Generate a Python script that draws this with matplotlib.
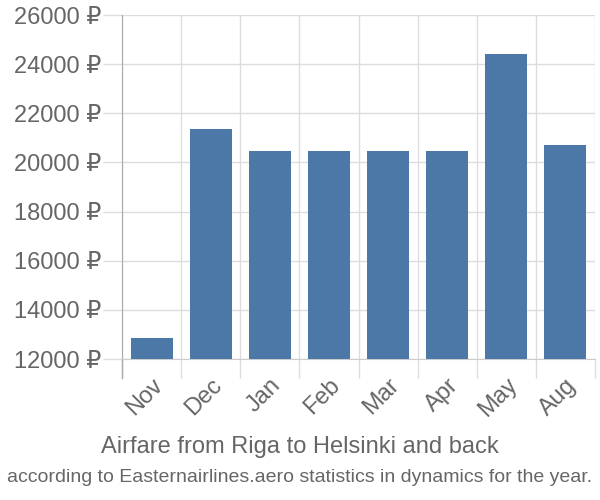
import matplotlib.pyplot as plt
import numpy as np

plt.rcParams['font.family'] = ['Liberation Sans', 'DejaVu Sans']

# Price of round trip by month
months = ["Nov", "Dec", "Jan", "Feb", "Mar", "Apr", "May", "Aug"]
prices = [12860, 21370, 20460, 20460, 20460, 20460, 24410, 20720]
y_ticks = [12000, 14000, 16000, 18000, 20000, 22000, 24000, 26000]

text_col = "#666666"
grid_col = "#dddddd"

fig = plt.figure(figsize=(6, 5), dpi=100)
ax = fig.add_axes([0.2033, 0.282, 0.7884, 0.688])

x = np.arange(len(months)) + 0.5
ax.bar(x, prices, width=0.71, color="#4c78a8", zorder=3)

ax.set_xlim(0, len(months))
ax.set_ylim(12000, 26000)

# category boundaries as gridlines that hang below the axis
ax.set_xticks(np.arange(len(months) + 1))
ax.set_xticklabels([])
ax.tick_params(axis='x', which='major', length=14, width=1, color=grid_col)
ax.set_xticks(x, minor=True)
ax.set_xticklabels(months, minor=True, rotation=45, ha='right', va='top',
                   rotation_mode='anchor', fontsize=17, color=text_col)
ax.tick_params(axis='x', which='minor', length=0, pad=11)
ax.grid(axis='x', which='major', color=grid_col, lw=1, zorder=0)

ax.set_yticks(y_ticks)
ax.set_yticklabels([f"{v} ₽" for v in y_ticks], fontsize=17, color=text_col)
ax.tick_params(axis='y', length=14, width=1, color=grid_col, pad=1)
ax.grid(axis='y', color=grid_col, lw=1, zorder=0)

for s in ['top', 'right']:
    ax.spines[s].set_visible(False)
ax.spines['bottom'].set_color("#cccccc")
ax.spines['left'].set_color("#aaaaaa")
ax.plot([0, 0], [0, -0.055], transform=ax.transAxes, color="#aaaaaa",
        lw=1, clip_on=False)

fig.text(0.5, 0.106, "Airfare from Riga to Helsinki and back", ha='center',
         va='center', fontsize=17, color=text_col)
fig.text(0.5, 0.046, "according to Easternairlines.aero statistics in dynamics for the year.",
         ha='center', va='center', fontsize=14, color=text_col)

fig.savefig("out.png", dpi=100)
